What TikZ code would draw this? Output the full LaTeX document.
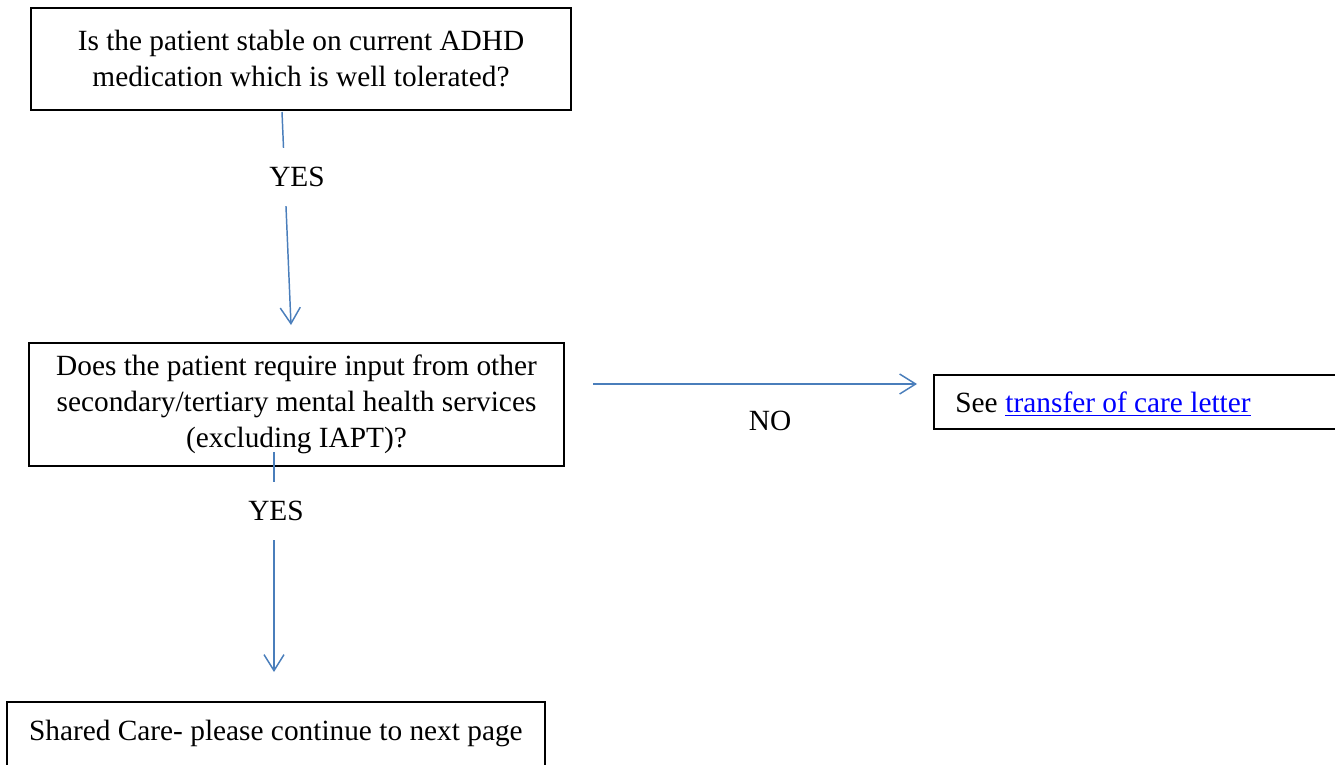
\documentclass[tikz,border=0pt]{standalone}
\usepackage{fontspec}
\setmainfont{Liberation Serif}
\usetikzlibrary{arrows.meta}
\definecolor{flowblue}{RGB}{74,126,187}
\definecolor{linkblue}{RGB}{0,0,255}
\begin{document}
\begin{tikzpicture}[x=0.75pt,y=-0.75pt,
  every node/.style={font=\fontsize{22pt}{27pt}\selectfont},
  box/.style={draw=black,line width=1.3pt,align=center,inner sep=0pt},
  flow/.style={draw=flowblue,line width=1.1pt},
  flowtip/.style={flow,-{Straight Barb[length=12pt,width=15pt,line width=1.1pt]}},
  lbl/.style={fill=white,inner xsep=2pt,inner ysep=0pt}]
\useasboundingbox (0,0) rectangle (1335,764);

\node[box,minimum width=405pt,minimum height=76.5pt] (q1) at (301,59)
  {Is the patient stable on current ADHD\\medication which is well tolerated?};
\node[box,minimum width=401.25pt,minimum height=92.25pt] (q2) at (296.5,404.5)
  {Does the patient require input from other\\secondary/tertiary mental health services\\(excluding IAPT)?};
\node[box,anchor=west,minimum height=40.5pt,minimum width=309pt] (tc) at (933,402) {};
\node[anchor=base west,inner sep=0pt] (see) at (955,412) {See};
\node[anchor=base west,inner sep=0pt,text=linkblue] (lnk) at ([xshift=5.5pt]see.base east) {transfer of care letter};
\draw[linkblue,line width=1.1pt] ([yshift=-2.6pt]lnk.base west) -- ([yshift=-2.6pt]lnk.base east);
\node[box,anchor=north west,minimum width=403.5pt,text height=29pt,text depth=40pt] (sc) at (6,701)
  {Shared Care- please continue to next page};

\coordinate (a1s) at (282,112);
\coordinate (a1e) at (291,325);
\draw[flowtip] (a1s) -- (a1e);
\node[lbl,minimum height=43pt] (yes1) at (297,177) {YES};

\coordinate (a2s) at (593,384);
\coordinate (a2e) at (917,384);
\draw[flowtip] (a2s) -- (a2e);
\node (no) at (770,421) {NO};

\coordinate (a3s) at (274,452);
\coordinate (a3e) at (274,672);
\draw[flowtip] (a3s) -- (a3e);
\node[lbl,minimum height=43pt] (yes2) at (276,511) {YES};
\end{tikzpicture}
\end{document}
